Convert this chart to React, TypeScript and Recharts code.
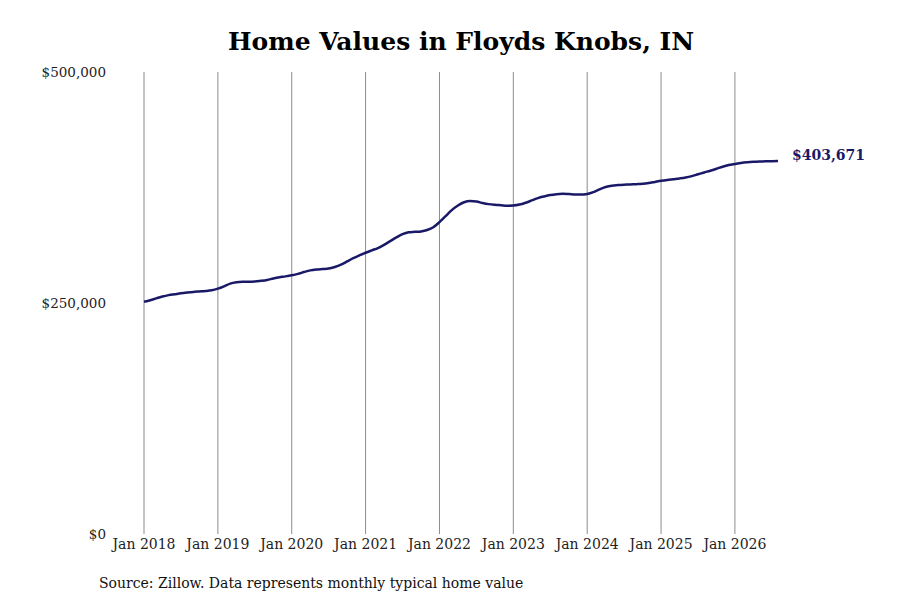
import { CartesianGrid, Line, LineChart, XAxis, YAxis } from "recharts";

// monthly typical home value, Jan 2018 .. Aug 2026
const values2018 = [251400, 253000, 255000, 257000, 258500, 259500, 260500, 261300, 262000, 262500, 263000, 263800];
const values2019 = [265500, 268000, 271000, 272500, 273000, 273000, 273200, 274000, 275000, 276500, 277800, 278800];
const values2020 = [280000, 281500, 283500, 285300, 286300, 286800, 287300, 289000, 291500, 295000, 298500, 301500];
const values2021 = [304400, 307000, 309500, 313000, 317000, 321000, 324500, 326500, 327000, 327500, 329000, 332000];
const values2022 = [337500, 344000, 350500, 355500, 359000, 360300, 359800, 358200, 357000, 356300, 355800, 355300];
const values2023 = [355500, 356500, 358500, 361000, 363500, 365300, 366800, 367800, 368300, 368000, 367500, 367300];
const values2024 = [368000, 370000, 373000, 375500, 377000, 377600, 378000, 378300, 378600, 379000, 379800, 381000];
const values2025 = [382200, 383200, 384000, 384800, 385800, 387300, 389300, 391300, 393200, 395300, 397500, 399300];
const values2026 = [400500, 401600, 402300, 402800, 403100, 403300, 403500, 403671];

const years = [2018, 2019, 2020, 2021, 2022, 2023, 2024, 2025, 2026];
const yTicks = [0, 250000, 500000];

const allValues = [
  ...values2018, ...values2019, ...values2020, ...values2021, ...values2022,
  ...values2023, ...values2024, ...values2025, ...values2026,
];
const data = allValues.map((value, i) => ({ month: i, value }));
const xTicks = years.map((_, i) => i * 12);
const lastMonth = allValues.length - 1;

const NAVY = "#1a1968";
const FONT = "'DejaVu Serif', serif";

const money = (v: number) => "$" + v.toLocaleString("en-US");

function EndLabel(props: any) {
  const { x, y, index, value } = props;
  if (index !== data.length - 1) return null;
  return (
    <text x={x + 14} y={y - 6} dy="0.35em" fill={NAVY} fontFamily={FONT} fontWeight="bold" fontSize={14}>
      {money(value)}
    </text>
  );
}

// one grid line per January only (no line at the right edge)
const gridLines = ({ offset }: any) =>
  xTicks.map((t) => offset.left + (t / lastMonth) * offset.width);

export default function App() {
  return (
    <div style={{ position: "absolute", left: 0, top: 0, width: 900, height: 600, background: "#fff", fontFamily: FONT }}>
      <div style={{ position: "absolute", left: 0, top: 27, width: 922, textAlign: "center", fontSize: 25, fontWeight: "bold" }}>
        Home Values in Floyds Knobs, IN
      </div>
      <LineChart width={900} height={600} data={data} margin={{ top: 72, right: 122, left: 44, bottom: 36 }}>
        <CartesianGrid horizontal={false} stroke="#8c8c8c" verticalCoordinatesGenerator={gridLines} />
        <XAxis
          dataKey="month"
          type="number"
          domain={[0, lastMonth]}
          ticks={xTicks}
          tickFormatter={(m: number) => "Jan " + years[m / 12]}
          axisLine={false}
          tickLine={false}
          tickSize={0}
          tickMargin={5}
          height={30}
          tick={{ fill: "#222", fontSize: 14, fontFamily: FONT }}
        />
        <YAxis
          domain={[0, 500000]}
          ticks={yTicks}
          tickFormatter={money}
          axisLine={false}
          tickLine={false}
          tickSize={0}
          tickMargin={38}
          width={100}
          tick={{ fill: "#222", fontSize: 13.5, fontFamily: FONT }}
        />
        <Line
          dataKey="value"
          type="monotone"
          stroke={NAVY}
          strokeWidth={2.5}
          dot={false}
          isAnimationActive={false}
          label={<EndLabel />}
        />
      </LineChart>
      <div style={{ position: "absolute", left: 99, top: 575, fontSize: 14, color: "#111" }}>
        Source: Zillow. Data represents monthly typical home value
      </div>
    </div>
  );
}
